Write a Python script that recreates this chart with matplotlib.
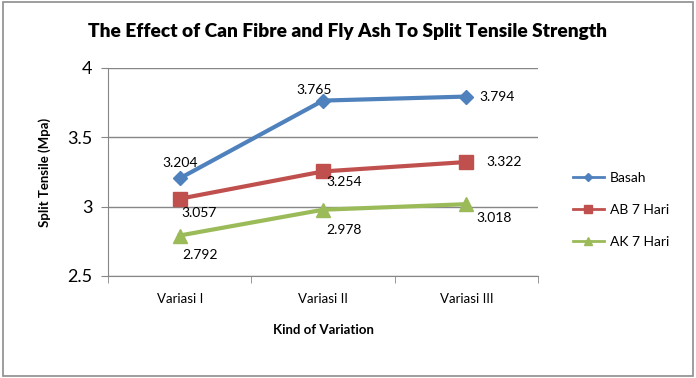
import numpy as np
import matplotlib
matplotlib.use("Agg")
from matplotlib import pyplot as plt
from matplotlib.patches import Rectangle

plt.rcParams['font.family'] = ['Lato', 'DejaVu Sans']

categories = ["Variasi I", "Variasi II", "Variasi III"]
series_names = ["Basah", "AB 7 Hari", "AK 7 Hari"]
basah = [3.204, 3.765, 3.794]
ab7 = [3.057, 3.254, 3.322]
ak7 = [2.792, 2.978, 3.018]
y_ticks = [2.5, 3, 3.5, 4]

colors = ["#4F81BD", "#C0504D", "#9BBB59"]
markers = ["D", "s", "^"]
msizes = [7, 10, 10]

# label offsets in pixels (dx, dy) per series / point
offsets = [
    [(0, 15), (-9, 11), (31, 0)],
    [(19, -14), (21, -11), (38, 0)],
    [(20, -19), (21, -20), (28, -14)],
]

fig = plt.figure(figsize=(6.96, 3.78), dpi=100)
fig.patches.append(Rectangle((0.004, 0.004), 0.992, 0.992, transform=fig.transFigure,
                             fill=False, edgecolor="#8c8c8c", linewidth=1.2))

ax = fig.add_axes([108 / 696, 1 - 276 / 378, 430 / 696, 208 / 378])
x = np.arange(len(categories))
all_series = [basah, ab7, ak7]

for vals, name, c, m, ms, offs in zip(all_series, series_names, colors, markers, msizes, offsets):
    ax.plot(x, vals, color=c, linewidth=3, marker=m, markersize=ms, label=name, zorder=3)
    for xi, v, (dx, dy) in zip(x, vals, offs):
        ax.annotate(f"{v:.3f}", (xi, v), xytext=(dx * 0.72, dy * 0.72), textcoords="offset points",
                    ha="center", va="center", fontsize=10, color="black")

ax.set_xlim(-0.5, 2.5)
ax.set_ylim(2.5, 4)
ax.set_yticks(y_ticks)
ax.set_yticklabels(["2.5", "3", "3.5", "4"], fontsize=13)
ax.set_xticks(x)
ax.set_xticklabels(categories, fontsize=9.5)
ax.set_xticks([-0.5, 0.5, 1.5, 2.5], minor=True)
ax.tick_params(axis="x", which="major", length=0, pad=12)
ax.tick_params(axis="x", which="minor", length=5, color="#868686", direction="out")
ax.tick_params(axis="y", length=5, color="#868686", direction="out", pad=6)
ax.grid(axis="y", color="#868686", linewidth=1)
ax.set_axisbelow(True)
for s in ["top", "right"]:
    ax.spines[s].set_visible(False)
for s in ["left", "bottom"]:
    ax.spines[s].set_color("#868686")

ax.set_xlabel("Kind of Variation", fontsize=9.5, fontweight="bold", labelpad=14)
ax.set_ylabel("Split Tensile (Mpa)", fontsize=9.5, fontweight="bold", labelpad=12)
fig.suptitle("The Effect of Can Fibre and Fly Ash To Split Tensile Strength",
             fontsize=13.8, fontweight="heavy", y=1 - 31 / 378, va="center")

leg = fig.legend(loc="center left", bbox_to_anchor=(560 / 696, 1 - 210 / 378), frameon=False,
                 fontsize=10, labelspacing=1.45, handlelength=2.3, handletextpad=0.4,
                 markerscale=0.6)
for line in leg.get_lines():
    line.set_linewidth(2)

fig.savefig("out.png", dpi=100)
